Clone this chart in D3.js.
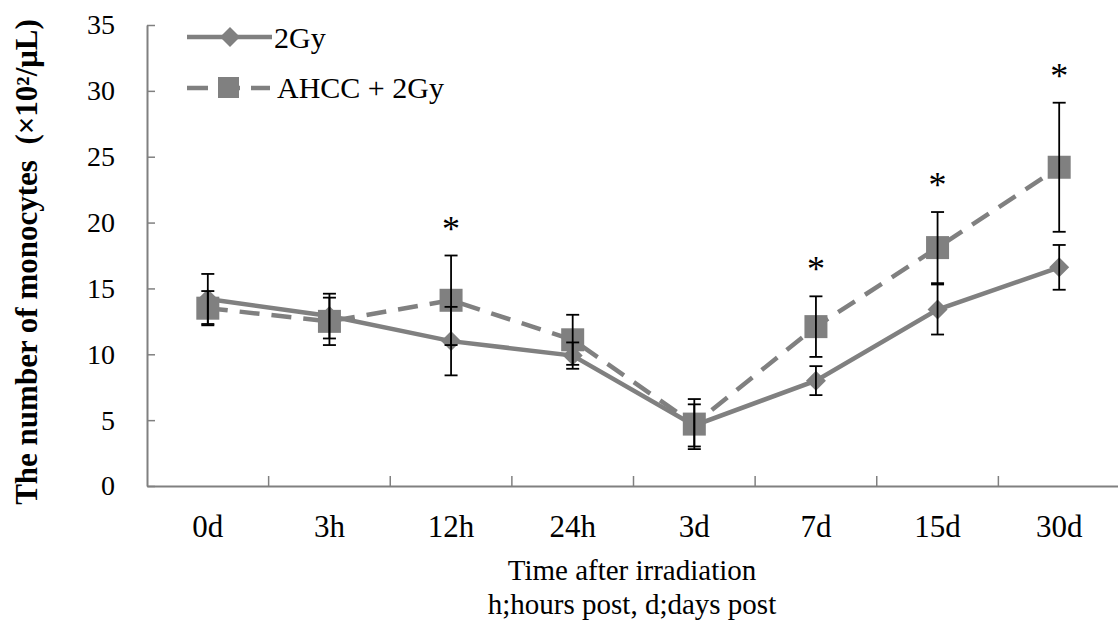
<!DOCTYPE html>
<html>
<head>
<meta charset="utf-8">
<script src="https://cdn.jsdelivr.net/npm/d3@7"></script>
<style>
  html, body { margin: 0; padding: 0; background: #fff; }
  svg { display: block; }
  text { font-family: "Liberation Serif", "Times New Roman", serif; fill: #000; }
</style>
</head>
<body>
<svg id="chart" width="1118" height="624"></svg>
<script>
const categories = ["0d", "3h", "12h", "24h", "3d", "7d", "15d", "30d"];
const gy2Values = [14.2, 12.9, 11.0, 9.9, 4.6, 8.0, 13.4, 16.6];
const gy2Errors = [1.9, 1.7, 2.6, 1.0, 1.6, 1.1, 1.9, 1.7];
const ahccValues = [13.5, 12.5, 14.1, 11.1, 4.7, 12.1, 18.1, 24.2];
const ahccErrors = [1.3, 1.8, 3.4, 1.9, 1.9, 2.3, 2.7, 4.9];
const significant = [false, false, true, false, false, true, true, true];
const yTicks = [0, 5, 10, 15, 20, 25, 30, 35];
const seriesNames = ["2Gy", "AHCC + 2Gy"];
const yTitle = "The number of monocytes\u00a0\u00a0(\u00d710\u00b2/\u03bcL)";
const xTitle1 = "Time after irradiation";
const xTitle2 = "h;hours post, d;days post";

const svg = d3.select("#chart");
const mLeft = 147, mRight = 1120, mTop = 25, mBottom = 486;
const gray = "#808080";

const x = d3.scaleBand().domain(categories).range([mLeft, mRight]).padding(0);
const y = d3.scaleLinear().domain([0, 35]).range([mBottom, mTop]);
const cx = c => x(c) + x.bandwidth() / 2;

// Axes
const yAxis = d3.axisLeft(y).tickValues(yTicks).tickSize(-8).tickPadding(32).tickSizeOuter(0);
const gy = svg.append("g").attr("transform", `translate(${mLeft},0)`).call(yAxis);
gy.select(".domain").attr("stroke", gray).attr("stroke-width", 2);
gy.selectAll(".tick line").attr("stroke", gray).attr("stroke-width", 1.5);
gy.selectAll(".tick text").style("font-family", "Liberation Serif").style("font-size", "28px").attr("fill", "#000");

const xAxis = d3.axisBottom(x).tickSize(0).tickPadding(29).tickSizeOuter(0);
const gx = svg.append("g").attr("transform", `translate(0,${mBottom})`).call(xAxis);
gx.select(".domain").attr("stroke", gray).attr("stroke-width", 2);
gx.selectAll(".tick text").style("font-family", "Liberation Serif").style("font-size", "31px").attr("fill", "#000");
// category separators (tick marks between bands, pointing up)
svg.append("g").selectAll("line").data(categories.slice(1)).join("line")
  .attr("x1", d => x(d)).attr("x2", d => x(d))
  .attr("y1", mBottom).attr("y2", mBottom - 10)
  .attr("stroke", gray).attr("stroke-width", 1.5);

// Titles
svg.append("text")
  .attr("transform", `translate(37,262) rotate(-90)`)
  .attr("text-anchor", "middle")
  .style("font-size", "31px").style("font-weight", "bold")
  .text(yTitle);
svg.append("text").attr("x", 632).attr("y", 580).attr("text-anchor", "middle")
  .style("font-size", "29px").text(xTitle1);
svg.append("text").attr("x", 632).attr("y", 614).attr("text-anchor", "middle")
  .style("font-size", "29px").text(xTitle2);

// Lines
const line = d3.line().x((d, i) => cx(categories[i])).y(d => y(d));
svg.append("path").datum(ahccValues).attr("d", line)
  .attr("fill", "none").attr("stroke", gray).attr("stroke-width", 4.5)
  .attr("stroke-dasharray", "20,12");
svg.append("path").datum(gy2Values).attr("d", line)
  .attr("fill", "none").attr("stroke", gray).attr("stroke-width", 4.5);

// Markers
const diamond = (px, py, r) => `M${px},${py - r}L${px + r},${py}L${px},${py + r}L${px - r},${py}Z`;
svg.append("g").selectAll("path").data(gy2Values).join("path")
  .attr("d", (d, i) => diamond(cx(categories[i]), y(d), 10))
  .attr("fill", gray);
svg.append("g").selectAll("rect").data(ahccValues).join("rect")
  .attr("x", (d, i) => cx(categories[i]) - 11.5).attr("y", d => y(d) - 11.5)
  .attr("width", 23).attr("height", 23).attr("fill", gray);

// Error bars
function errorBars(vals, errs) {
  const g = svg.append("g").attr("stroke", "#000").attr("stroke-width", 1.8);
  vals.forEach((v, i) => {
    const px = cx(categories[i]);
    g.append("line").attr("x1", px).attr("x2", px).attr("y1", y(v + errs[i])).attr("y2", y(v - errs[i]));
    [v + errs[i], v - errs[i]].forEach(e => {
      g.append("line").attr("x1", px - 6.5).attr("x2", px + 6.5).attr("y1", y(e)).attr("y2", y(e));
    });
  });
}
errorBars(gy2Values, gy2Errors);
errorBars(ahccValues, ahccErrors);

// Significance asterisks
svg.append("g").selectAll("text").data(categories.filter((c, i) => significant[i])).join("text")
  .attr("x", c => cx(c))
  .attr("y", c => { const i = categories.indexOf(c); return y(ahccValues[i] + ahccErrors[i]) - 15; })
  .attr("text-anchor", "middle")
  .style("font-size", "36px")
  .text("*");

// Legend
const lg = svg.append("g");
lg.append("line").attr("x1", 187).attr("x2", 272).attr("y1", 37).attr("y2", 37)
  .attr("stroke", gray).attr("stroke-width", 4.5);
lg.append("path").attr("d", diamond(230, 37, 10)).attr("fill", gray);
lg.append("text").attr("x", 274).attr("y", 48).style("font-size", "30px").text(seriesNames[0]);
lg.append("line").attr("x1", 187).attr("x2", 270).attr("y1", 88).attr("y2", 88)
  .attr("stroke", gray).attr("stroke-width", 4.5).attr("stroke-dasharray", "21,11");
lg.append("rect").attr("x", 218).attr("y", 77).attr("width", 21).attr("height", 21).attr("fill", gray);
lg.append("text").attr("x", 277).attr("y", 98).style("font-size", "30px").text(seriesNames[1]);
</script>
</body>
</html>
